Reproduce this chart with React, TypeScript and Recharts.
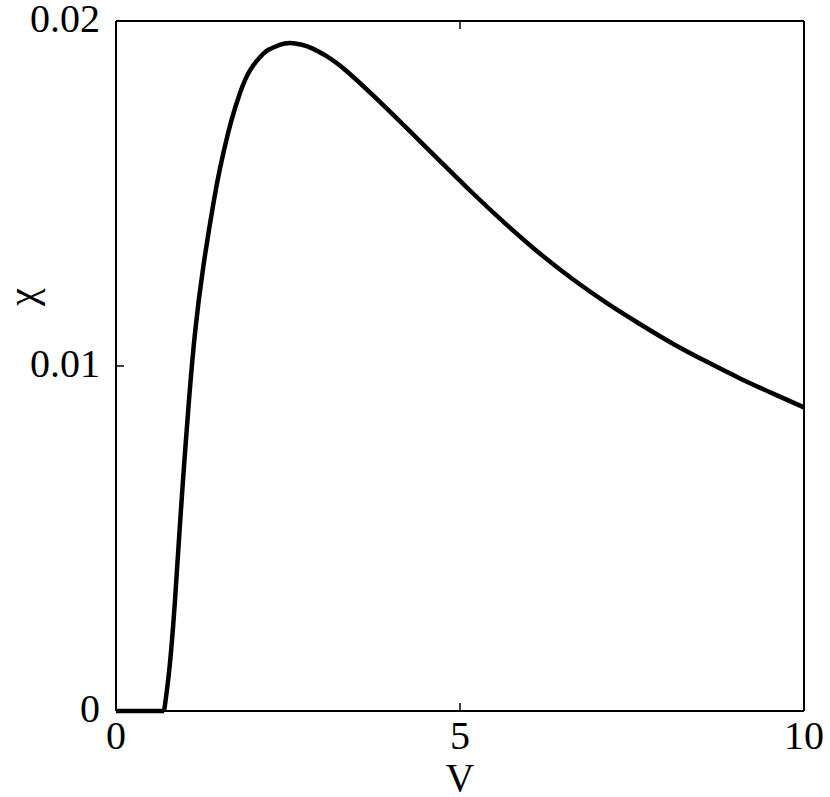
import React from 'react';
import { LineChart, Line, XAxis, YAxis, Label } from 'recharts';

// V values
const voltage = [
    0, 0.7, 0.78, 0.858, 0.921, 0.988, 1.061, 1.148, 1.269, 1.424, 1.512, 1.584, 1.681, 1.802, 1.948, 2.14,
    2.24, 2.38, 2.53, 2.7, 2.86, 3.06, 3.35, 3.88, 4.32, 4.71, 5.19, 5.68, 6.16, 6.65, 7.13, 7.62, 8.1, 8.59,
    9.07, 9.55, 10,
];
const chi = [
    0, 0, 0.0013, 0.00322, 0.00515, 0.00708, 0.00901, 0.01095, 0.01288, 0.01481, 0.01573, 0.01638, 0.01714,
    0.01791, 0.01857, 0.01905, 0.01919, 0.01931, 0.01936, 0.01931, 0.0192, 0.01898, 0.01855, 0.01757, 0.01671,
    0.01594, 0.015, 0.01409, 0.01326, 0.0125, 0.01183, 0.01121, 0.01064, 0.01012, 0.00964, 0.0092, 0.0088,
];
// below threshold chi stays flat at zero
const threshold = 0.7;
const xTicks = [0, 5, 10];
const yTicks = [0, 0.01, 0.02];

const data = voltage.map((v, i) => ({
    v,
    flat: v <= threshold ? chi[i] : null,
    chi: v >= threshold ? chi[i] : null,
}));

const FONT = '"Liberation Serif", "Times New Roman", serif';
const tickStyle = { fontSize: 40, fill: '#000', fontFamily: FONT };
const axisLine = { stroke: '#000', strokeWidth: 2 };
const tickLine = { stroke: '#000', strokeWidth: 1.5 };

export default function App() {
    return (
        <div style={{ position: 'absolute', left: 0, top: 0, background: '#fff' }}>
            <LineChart width={830} height={797} data={data} margin={{ top: 20, right: 25, left: 0, bottom: 0 }}>
                <XAxis
                    dataKey="v"
                    type="number"
                    domain={[0, 10]}
                    ticks={xTicks}
                    height={86}
                    tickSize={-8}
                    tickMargin={18}
                    tick={tickStyle}
                    axisLine={axisLine}
                    tickLine={tickLine}
                    interval={0}
                >
                    <Label
                        content={({ viewBox }: any) => (
                            <text
                                x={viewBox.x + viewBox.width / 2}
                                y={viewBox.y + 80}
                                textAnchor="middle"
                                fontSize={40}
                                fontFamily={FONT}
                                fill="#000"
                            >
                                V
                            </text>
                        )}
                    />
                </XAxis>
                <XAxis
                    xAxisId="top"
                    dataKey="v"
                    type="number"
                    orientation="top"
                    domain={[0, 10]}
                    ticks={xTicks}
                    height={1}
                    tickSize={-8}
                    tick={() => <g />}
                    axisLine={axisLine}
                    tickLine={tickLine}
                    interval={0}
                />
                <YAxis
                    type="number"
                    domain={[0, 0.02]}
                    ticks={yTicks}
                    width={116}
                    tickSize={-8}
                    tickMargin={24}
                    tick={{ ...tickStyle, dy: -3 }}
                    tickFormatter={(val: number) => (val === 0 ? '0' : String(val))}
                    axisLine={axisLine}
                    tickLine={tickLine}
                    interval={0}
                >
                    <Label
                        content={({ viewBox }: any) => {
                            const cx = viewBox.x + 22;
                            const cy = viewBox.y + viewBox.height * 0.4;
                            return (
                                <text
                                    x={cx}
                                    y={cy}
                                    transform={`rotate(-90 ${cx} ${cy})`}
                                    textAnchor="middle"
                                    dominantBaseline="central"
                                    fontSize={40}
                                    fontFamily={FONT}
                                    fill="#000"
                                >
                                    χ
                                </text>
                            );
                        }}
                    />
                </YAxis>
                <YAxis
                    yAxisId="right"
                    type="number"
                    orientation="right"
                    domain={[0, 0.02]}
                    ticks={yTicks}
                    width={1}
                    tickSize={-8}
                    tick={() => <g />}
                    axisLine={axisLine}
                    tickLine={tickLine}
                    interval={0}
                />
                <Line
                    type="linear"
                    dataKey="flat"
                    stroke="#000"
                    strokeWidth={4.5}
                    dot={false}
                    activeDot={false}
                    isAnimationActive={false}
                />
                <Line
                    type="natural"
                    dataKey="chi"
                    stroke="#000"
                    strokeWidth={4.5}
                    dot={false}
                    activeDot={false}
                    isAnimationActive={false}
                />
            </LineChart>
        </div>
    );
}
